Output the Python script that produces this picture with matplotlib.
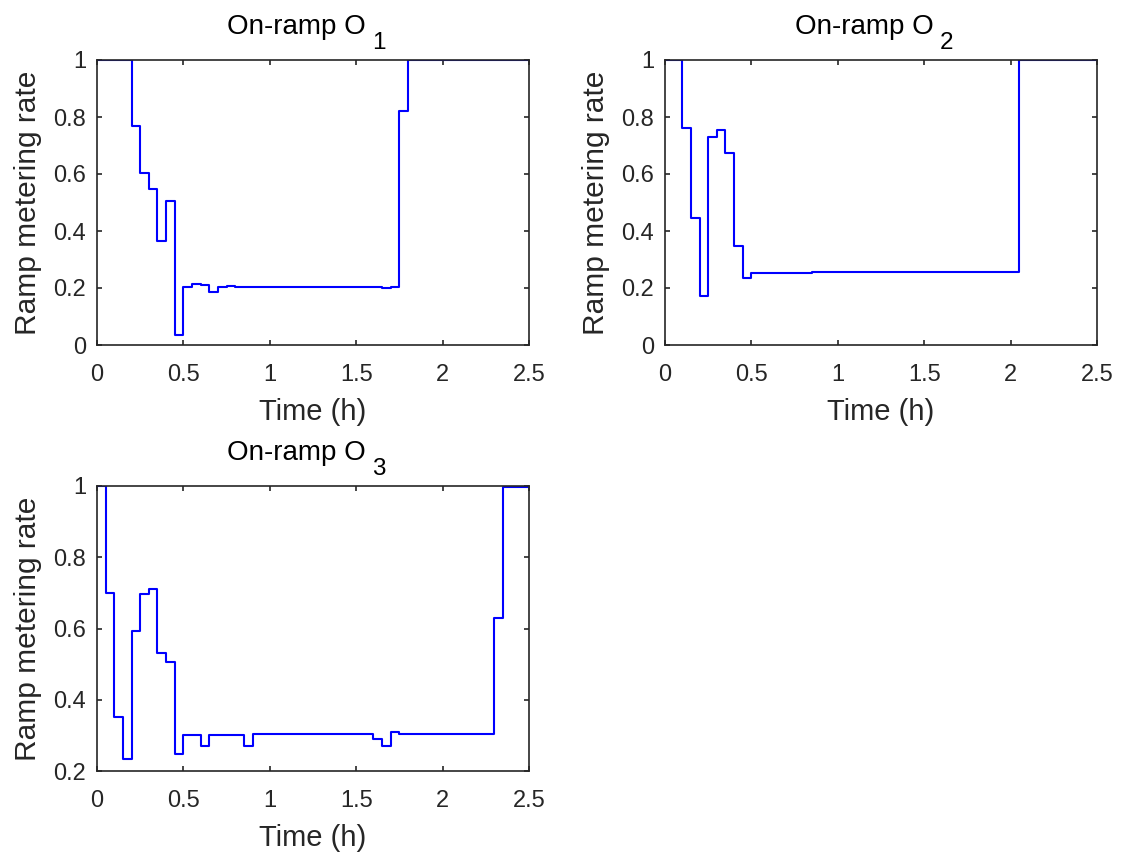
import matplotlib
matplotlib.use("Agg")
import matplotlib.pyplot as plt
from matplotlib.ticker import FormatStrFormatter

plt.rcParams['font.family'] = ['Liberation Sans', 'DejaVu Sans']

# Ramp metering rate for each on-ramp: step change times (h) and held values
time_o1 = [0, 0.2, 0.25, 0.3, 0.35, 0.4, 0.45, 0.5, 0.55, 0.6, 0.65, 0.7, 0.75,
           0.8, 1.65, 1.7, 1.75, 1.8, 2.5]
rate_o1 = [1, 0.767, 0.602, 0.546, 0.365, 0.506, 0.035, 0.202, 0.214, 0.209, 0.187,
           0.202, 0.206, 0.203, 0.199, 0.204, 0.821, 1, 1]

time_o2 = [0, 0.1, 0.15, 0.2, 0.25, 0.3, 0.35, 0.4, 0.45, 0.5, 0.65, 0.7, 0.85,
           2.05, 2.5]
rate_o2 = [1, 0.761, 0.444, 0.172, 0.730, 0.754, 0.673, 0.346, 0.236, 0.253, 0.251,
           0.252, 0.255, 1, 1]

time_o3 = [0, 0.05, 0.1, 0.15, 0.2, 0.25, 0.3, 0.35, 0.4, 0.45, 0.5, 0.6, 0.65,
           0.85, 0.9, 1.6, 1.65, 1.7, 1.75, 2.3, 2.35, 2.5]
rate_o3 = [1, 0.700, 0.352, 0.234, 0.594, 0.697, 0.711, 0.532, 0.507, 0.249, 0.300,
           0.271, 0.300, 0.271, 0.304, 0.289, 0.271, 0.310, 0.303, 0.630, 0.996, 0.996]

title_text = 'On-ramp O'
title_subs = ['1', '2', '3']
x_ticks = [0, 0.5, 1, 1.5, 2, 2.5]

W, H = 1122, 856
fig = plt.figure(figsize=(W / 100, H / 100), dpi=100)


def make_axes(left, top, right, bottom):
    return fig.add_axes([left / W, 1 - bottom / H, (right - left) / W, (bottom - top) / H])


panels = [
    (make_axes(97, 60, 529, 345), time_o1, rate_o1, title_subs[0], (0, 1), [0, 0.2, 0.4, 0.6, 0.8, 1]),
    (make_axes(665, 60, 1097, 345), time_o2, rate_o2, title_subs[1], (0, 1), [0, 0.2, 0.4, 0.6, 0.8, 1]),
    (make_axes(97, 486, 529, 771), time_o3, rate_o3, title_subs[2], (0.2, 1), [0.2, 0.4, 0.6, 0.8, 1]),
]

edge = '#262626'
for ax, t, r, sub, ylim, yt in panels:
    ax.plot(t, r, drawstyle='steps-post', color='#0000ff', lw=1.5)
    ax.set_xlim(0, 2.5)
    ax.set_ylim(*ylim)
    ax.set_xticks(x_ticks)
    ax.set_yticks(yt)
    ax.xaxis.set_major_formatter(FormatStrFormatter('%g'))
    ax.yaxis.set_major_formatter(FormatStrFormatter('%g'))
    ax.tick_params(direction='in', length=3.8, width=1.2, colors=edge,
                   labelsize=17, top=True, right=True)
    ax.tick_params(axis='x', pad=14)
    ax.tick_params(axis='y', pad=8)
    for sp in ax.spines.values():
        sp.set_color(edge)
        sp.set_linewidth(1.2)
    ax.set_xlabel('Time (h)', fontsize=21, color=edge, labelpad=8)
    ax.set_ylabel('Ramp metering rate', fontsize=21.5, color=edge, labelpad=8)

    # Title with a lowered subscript index
    base_y = 1 + 26 / 285
    main = ax.text(0.5 - 17 / 432, base_y, title_text, transform=ax.transAxes,
                   ha='center', va='baseline', fontsize=20, color='black')
    ax.annotate(sub, xy=(1, base_y), xycoords=(main, ax.transAxes),
                xytext=(4.5, -10.5), textcoords='offset points',
                ha='left', va='baseline', fontsize=17.5, color='black')

fig.savefig('out.png', dpi=100)
